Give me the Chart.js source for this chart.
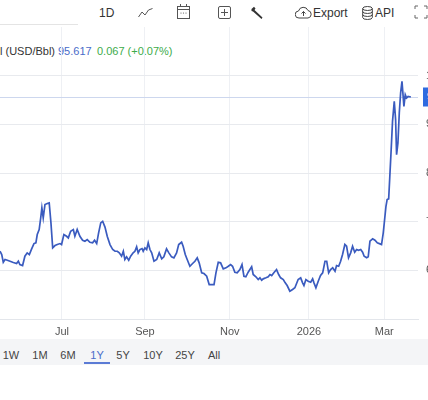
<!DOCTYPE html>
<html>
<head>
<meta charset="utf-8">
<script src="https://cdn.jsdelivr.net/npm/chart.js@4.4.1/dist/chart.umd.min.js"></script>
<style>
  html, body { margin: 0; padding: 0; width: 428px; height: 400px; overflow: hidden; background: #fff;
    font-family: "Liberation Sans", Arial, sans-serif; }
  .abs { position: absolute; white-space: nowrap; }
  .tb { font-size: 12px; color: #333; line-height: 14px; top: 6px; }
  .lg { font-size: 11px; line-height: 13px; top: 45px; }
  .rng { font-size: 11px; color: #444; line-height: 13px; top: 349px; transform: translateX(-50%); }
  #wrap { position: absolute; left: 0; top: 27px; width: 450px; height: 313px; }
  svg { position: absolute; }
</style>
</head>
<body>
<!-- toolbar -->
<div class="abs" style="left:0;top:24px;width:78px;height:1px;background:#e4e4e4"></div>
<div class="abs tb" style="left:99px">1D</div>
<svg style="left:138px;top:8px" width="15" height="10" viewBox="0 0 15 10"><polyline points="0.5,9 4,4 7,7 10.5,2 14.5,0.5" fill="none" stroke="#555" stroke-width="1"/></svg>
<svg style="left:177px;top:4px" width="13" height="15" viewBox="0 0 13 15"><rect x="0.5" y="2.5" width="12" height="12" fill="none" stroke="#555"/><line x1="0.5" y1="5.5" x2="12.5" y2="5.5" stroke="#555"/><line x1="3.5" y1="0" x2="3.5" y2="3" stroke="#555"/><line x1="9.5" y1="0" x2="9.5" y2="3" stroke="#555"/><circle cx="4" cy="9" r="0.6" fill="#555"/><circle cx="6.5" cy="9" r="0.6" fill="#555"/><circle cx="9" cy="9" r="0.6" fill="#555"/></svg>
<svg style="left:218px;top:6px" width="13" height="13" viewBox="0 0 13 13"><rect x="0.5" y="0.5" width="12" height="12" rx="1.5" fill="none" stroke="#555"/><line x1="6.5" y1="3" x2="6.5" y2="10" stroke="#555"/><line x1="3" y1="6.5" x2="10" y2="6.5" stroke="#555"/></svg>
<svg style="left:250px;top:6px" width="14" height="14" viewBox="0 0 14 14"><path d="M1.5,3 L4,0.8 L5.5,2.5 L4.5,4 L12.5,11.5 L11.5,13 L3,5.5 L1.5,5 Z" fill="#333"/></svg>
<svg style="left:295px;top:6px" width="17" height="13" viewBox="0 0 17 13"><path d="M4,12 A3.5,3.5 0 0 1 3.5,5 A5,5 0 0 1 13,4.5 A3.8,3.8 0 0 1 13,12 Z" fill="none" stroke="#444"/><path d="M8.5,10 L8.5,5.5 M6.5,7.5 L8.5,5.5 L10.5,7.5" fill="none" stroke="#444"/></svg>
<div class="abs tb" style="left:313px">Export</div>
<svg style="left:362px;top:6px" width="11" height="14" viewBox="0 0 11 14"><ellipse cx="5.5" cy="2.5" rx="4.8" ry="2" fill="none" stroke="#444"/><path d="M0.7,2.5 V11.5 A4.8,2 0 0 0 10.3,11.5 V2.5 M0.7,5.5 A4.8,2 0 0 0 10.3,5.5 M0.7,8.5 A4.8,2 0 0 0 10.3,8.5" fill="none" stroke="#444"/></svg>
<div class="abs tb" style="left:375px">API</div>
<svg style="left:414px;top:5px" width="14" height="14" viewBox="0 0 14 14"><path d="M1,4 V1 H4 M10,1 H13 V4 M13,10 V13 H10 M4,13 H1 V10" fill="none" stroke="#666"/></svg>

<!-- legend row -->
<div class="abs lg" style="left:0;color:#333">l (USD/Bbl)</div>
<div class="abs lg" style="left:58px;color:#4a6cc9">95.617</div>
<div class="abs lg" style="left:97px;color:#3dab4a">0.067 (+0.07%)</div>

<div id="wrap"><canvas id="c" width="450" height="313"></canvas></div>

<!-- range bar -->
<div class="abs" style="left:0;top:339px;width:428px;height:26px;background:#f4f5f7"></div>
<div class="abs rng" style="left:11px">1W</div>
<div class="abs rng" style="left:40px">1M</div>
<div class="abs rng" style="left:68px">6M</div>
<div class="abs rng" style="left:97px;color:#4a6cc9">1Y</div>
<div class="abs" style="left:84px;top:362px;width:26px;height:2px;background:#5b7bd5"></div>
<div class="abs rng" style="left:123px">5Y</div>
<div class="abs rng" style="left:153px">10Y</div>
<div class="abs rng" style="left:185px">25Y</div>
<div class="abs rng" style="left:214px">All</div>

<script>
// trading sessions counted from 1 Jul 2025
const sessions = [
  -32.1,-31.2,-30.4,-29.5,-28.3,-26.9,-25.2,-23.5,-22.6,-21.8,
  -20.4,-19.2,-18.0,-16.9,-15.7,-14.5,-13.5,-12.8,-11.8,-11.0,
  -10.4,-9.7,-8.8,-7.6,-6.6,-5.7,-4.8,-3.6,-2.4,-1.0,
  -0.2,1.0,2.4,3.3,4.5,5.9,6.7,7.9,9.3,10.7,
  11.9,13.1,14.5,15.9,16.9,18.0,19.0,20.1,21.1,22.3,
  23.5,24.9,26.3,27.5,28.7,29.7,30.9,31.8,32.6,33.5,
  34.6,35.6,36.9,37.8,38.7,39.5,40.4,41.5,42.1,43.0,
  43.9,44.7,45.6,46.5,47.7,49.1,50.4,51.7,52.8,54.2,
  55.4,56.8,58.0,59.4,60.5,62.0,62.8,63.9,64.9,66.3,
  67.7,68.9,70.1,71.1,72.4,73.6,75.0,76.3,77.6,78.8,
  79.8,81.0,82.2,83.6,85.0,86.2,87.4,88.4,89.6,90.8,
  92.2,93.3,94.3,95.3,96.5,97.4,98.3,99.1,100.5,101.7,
  102.6,103.5,104.3,105.7,106.9,107.8,108.7,109.8,111.2,112.3,
  113.3,114.7,115.7,116.7,118.1,119.5,120.7,122.4,123.7,124.7,
  125.4,126.4,127.6,128.9,129.9,130.6,131.6,132.8,134.0,135.1,
  136.3,137.2,138.2,139.2,140.3,141.5,142.3,143.4,144.4,145.4,
  146.6,147.5,148.5,149.6,150.6,151.7,152.7,153.7,154.8,155.8,
  156.6,157.9,158.7,159.6,161.0,162.2,163.4,164.8,165.6,166.5,
  167.9,168.5,169.3,169.9,170.6,171.3,172.2,172.9,173.4,174.1,
  174.8,175.5,176.2,176.8,177.2,177.9,178.6,179.4,180.8
];

// USD/Bbl
const prices = [
  63.92,63.24,61.66,62.22,62.07,61.87,61.60,61.40,61.87,61.19,
  60.99,62.90,63.59,63.24,64.41,65.50,65.65,67.35,68.38,70.78,
  72.83,70.78,73.51,73.72,73.86,69.75,64.62,65.09,65.30,65.50,
  65.30,67.35,67.00,66.67,68.03,68.38,67.00,68.38,67.00,66.18,
  65.98,66.32,65.77,65.65,66.18,65.50,67.70,69.75,70.08,68.89,
  66.94,65.30,64.27,63.92,63.92,63.59,62.90,63.92,62.22,62.77,
  62.07,62.90,63.59,63.92,64.83,63.59,64.27,64.48,63.92,64.62,
  64.27,65.65,64.27,63.59,61.87,62.22,63.59,62.36,62.77,64.41,
  63.59,62.77,62.57,63.59,65.30,65.77,64.95,63.24,62.22,60.84,
  61.40,61.87,62.57,61.54,59.49,59.34,58.79,57.08,57.08,57.08,
  59.49,61.66,61.54,60.31,60.51,60.84,61.19,60.84,59.61,59.49,
  60.16,61.19,58.79,58.67,59.61,60.16,60.72,59.14,58.67,58.11,
  58.46,57.97,58.25,58.46,58.67,59.14,58.93,59.49,60.16,59.14,
  58.46,58.11,57.43,56.88,55.71,56.06,56.41,58.11,58.46,57.43,
  56.88,58.11,57.76,57.56,58.25,57.43,56.41,57.76,58.93,59.49,
  61.87,61.87,59.49,60.16,60.51,59.82,60.99,60.84,61.87,63.24,
  65.30,64.95,62.57,63.59,64.95,63.72,64.27,64.13,64.27,63.72,
  62.90,62.57,62.77,65.98,66.47,66.18,65.65,65.44,65.30,67.70,
  73.16,74.54,74.68,79.32,84.80,90.62,94.72,90.97,83.78,86.18,
  92.34,96.45,98.83,95.75,93.70,96.10,95.42,95.75,95.617
];

const tickSessions = [0, 43, 87, 128, 167];
const tickLabels = ['Jul', 'Sep', 'Nov', '2026', 'Mar'];
const yTicks = [50, 60, 70, 80, 90, 100, 110];
const lastPrice = 95.617;

const points = sessions.map((s, i) => ({ x: s, y: prices[i] }));

// current price line + blue tag on the right axis
const lastPricePlugin = {
  id: 'lastPrice',
  beforeDatasetsDraw(chart) {
    const { ctx, chartArea, scales } = chart;
    const py = Math.round(scales.y.getPixelForValue(lastPrice)) + 0.5;
    ctx.save();
    ctx.strokeStyle = '#cdd7ee';
    ctx.lineWidth = 1;
    ctx.beginPath();
    ctx.moveTo(chartArea.left, py);
    ctx.lineTo(chartArea.right, py);
    ctx.stroke();
    ctx.restore();
  },
  afterDraw(chart) {
    const { ctx, chartArea, scales } = chart;
    const py = scales.y.getPixelForValue(lastPrice);
    ctx.save();
    ctx.fillStyle = '#2f6be0';
    ctx.fillRect(chartArea.right + 5, py - 9.5, 40, 19);
    ctx.fillStyle = '#fff';
    ctx.font = '11px "Liberation Sans", Arial';
    ctx.textBaseline = 'middle';
    ctx.fillText(lastPrice.toFixed(2), chartArea.right + 9, py);
    ctx.restore();
  }
};

new Chart(document.getElementById('c'), {
  type: 'line',
  data: {
    datasets: [{
      data: points,
      borderColor: '#3a5bbf',
      borderWidth: 1.7,
      pointRadius: 0,
      tension: 0,
      fill: false
    }]
  },
  options: {
    responsive: false,
    animation: false,
    events: [],
    layout: { padding: 0 },
    plugins: { legend: { display: false }, tooltip: { enabled: false } },
    scales: {
      x: {
        type: 'linear',
        min: -32.1,
        max: 184.5,
        afterBuildTicks: (scale) => { scale.ticks = tickSessions.map(v => ({ value: v })); },
        afterFit: (scale) => {
          scale.height = 21;
          scale.paddingLeft = 0;
          scale.paddingRight = 0;
        },
        ticks: {
          callback: (v) => tickLabels[tickSessions.indexOf(v)] ?? '',
          color: '#555',
          font: { family: '"Liberation Sans", Arial', size: 11 },
          padding: 6,
          maxRotation: 0,
          autoSkip: false
        },
        grid: { color: '#eef0f4', drawTicks: false },
        border: { color: '#e3e6eb' }
      },
      y: {
        position: 'right',
        min: 50,
        max: 110,
        afterBuildTicks: (scale) => { scale.ticks = yTicks.map(v => ({ value: v })); },
        afterFit: (scale) => {
          scale.width = 32;
          scale.paddingTop = 0;
          scale.paddingBottom = 0;
        },
        ticks: {
          callback: (v) => (v === 50 || v === 110) ? '' : String(v),
          color: '#555',
          font: { family: '"Liberation Sans", Arial', size: 11 },
          padding: 8
        },
        grid: {
          color: (c) => (c.tick && c.tick.value === 110) ? 'rgba(0,0,0,0)' : '#e8eaee',
          drawTicks: false
        },
        border: { display: false }
      }
    }
  },
  plugins: [lastPricePlugin]
});
</script>
</body>
</html>
